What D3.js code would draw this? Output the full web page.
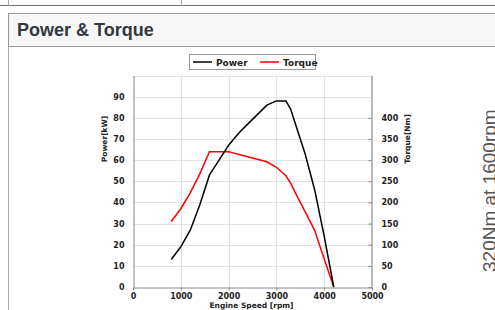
<!DOCTYPE html>
<html>
<head>
<meta charset="utf-8">
<script src="https://cdn.jsdelivr.net/npm/d3@7"></script>
<style>
  body { margin: 0; background: #fff; }
  svg { display: block; }
</style>
</head>
<body>
<div id="wrapper"></div>
<script>
const rpm = [800, 1000, 1200, 1400, 1600, 1800, 2000, 2200, 2400, 2600, 2800, 3000, 3200, 3300, 3400, 3600, 3800, 4000, 4200];
const power = [13, 19, 27, 39, 53, 60, 67, 72.5, 77, 81.5, 86, 88, 88, 84, 77, 63, 46, 24, 0];
const torque = [155, 185, 223, 268, 320, 320, 320, 314, 308, 302, 296, 283, 263, 245, 222, 178, 134, 66, 0];

const powerTicks = [0, 10, 20, 30, 40, 50, 60, 70, 80, 90];
const torqueTicks = [0, 50, 100, 150, 200, 250, 300, 350, 400];
const rpmTicks = [0, 1000, 2000, 3000, 4000, 5000];

const width = 495;
const height = 310;
const plot = { left: 133, right: 372, top: 75.5, bottom: 287 };
const tickFont = "DejaVu Sans, Verdana, sans-serif";

const svg = d3.select("#wrapper")
    .append("svg")
    .attr("width", width)
    .attr("height", height);

// page frame around the chart
svg.append("line").attr("x1", 0).attr("x2", width).attr("y1", 5.5).attr("y2", 5.5)
    .attr("stroke", "#777");
svg.append("line").attr("x1", 8.5).attr("x2", 8.5).attr("y1", 0).attr("y2", 5.5)
    .attr("stroke", "#aaa");
svg.append("line").attr("x1", 181.5).attr("x2", 181.5).attr("y1", 0).attr("y2", 5.5)
    .attr("stroke", "#aaa");

svg.append("rect")
    .attr("x", 8.5).attr("y", 13.5)
    .attr("width", width).attr("height", 33)
    .attr("fill", "#f7f7f7")
    .attr("stroke", "#999");
svg.append("line").attr("x1", 8.5).attr("x2", 8.5).attr("y1", 46).attr("y2", height)
    .attr("stroke", "#aaa");

svg.append("text")
    .attr("x", 17).attr("y", 36)
    .attr("font-family", "Liberation Sans, Arial, sans-serif")
    .attr("font-weight", "bold")
    .attr("font-size", 18)
    .attr("fill", "#333840")
    .text("Power & Torque");

// right side caption (clipped by window edge, as in the source page)
svg.append("text")
    .attr("transform", "translate(496,272) rotate(-90)")
    .attr("font-family", "Liberation Sans, Arial, sans-serif")
    .attr("font-size", 19)
    .attr("fill", "#555")
    .text("320Nm at 1600rpm");

const xScale = d3.scaleLinear()
    .domain([0, 5000])
    .range([plot.left, plot.right]);

const yScale = d3.scaleLinear()
    .domain([0, 100])
    .range([plot.bottom, plot.top]);

const y2Scale = d3.scaleLinear()
    .domain([0, 500])
    .range([plot.bottom, plot.top]);

// grid
const grid = svg.append("g");
grid.selectAll(".hgrid")
    .data(d3.range(10, 101, 10))
    .join("line")
    .attr("x1", plot.left).attr("x2", plot.right)
    .attr("y1", d => Math.round(yScale(d)) + 0.5)
    .attr("y2", d => Math.round(yScale(d)) + 0.5)
    .attr("stroke", "#e3e3e3");
grid.selectAll(".vgrid")
    .data(rpmTicks.slice(1, -1))
    .join("line")
    .attr("x1", d => Math.round(xScale(d)) + 0.5)
    .attr("x2", d => Math.round(xScale(d)) + 0.5)
    .attr("y1", plot.top).attr("y2", plot.bottom)
    .attr("stroke", "#e3e3e3");

// axes
function styleAxis(g) {
    g.select(".domain").attr("stroke", "#888");
    g.selectAll(".tick line").attr("stroke", "#888");
    g.selectAll(".tick text")
        .attr("font-family", tickFont)
        .attr("font-weight", "bold")
        .attr("font-size", 8)
        .attr("fill", "#222");
}

svg.append("g")
    .attr("transform", `translate(${plot.left + 0.5},0)`)
    .call(d3.axisLeft(yScale).tickValues(powerTicks).tickFormat(d3.format("d")).tickSize(0).tickPadding(9))
    .call(styleAxis);

svg.append("g")
    .attr("transform", `translate(${plot.right - 0.5},0)`)
    .call(d3.axisRight(y2Scale).tickValues(torqueTicks).tickFormat(d3.format("d"))
        .tickSizeInner(-3).tickSizeOuter(0).tickPadding(10))
    .call(styleAxis)
    .call(g => g.select(".domain").attr("stroke", "#777"));

svg.append("g")
    .attr("transform", `translate(0,${plot.bottom + 0.5})`)
    .call(d3.axisBottom(xScale).tickValues(rpmTicks).tickFormat(d3.format("d"))
        .tickSizeInner(3).tickSizeOuter(0).tickPadding(3))
    .call(styleAxis);

// axis titles
svg.append("text")
    .attr("transform", "translate(107,139) rotate(-90)")
    .attr("text-anchor", "middle")
    .attr("font-family", tickFont).attr("font-weight", "bold").attr("font-size", 7.5)
    .attr("fill", "#222")
    .text("Power[kW]");
svg.append("text")
    .attr("transform", "translate(410,139) rotate(-90)")
    .attr("text-anchor", "middle")
    .attr("font-family", tickFont).attr("font-weight", "bold").attr("font-size", 7.5)
    .attr("fill", "#222")
    .text("Torque[Nm]");
svg.append("text")
    .attr("x", (plot.left + plot.right) / 2 - 1).attr("y", 308)
    .attr("text-anchor", "middle")
    .attr("font-family", tickFont).attr("font-weight", "bold").attr("font-size", 7.5)
    .attr("fill", "#222")
    .text("Engine Speed [rpm]");

// lines
const powerLine = d3.line()
    .x((d, i) => xScale(rpm[i]))
    .y(d => yScale(d));
const torqueLine = d3.line()
    .x((d, i) => xScale(rpm[i]))
    .y(d => y2Scale(d));

svg.append("path")
    .attr("d", torqueLine(torque))
    .attr("fill", "none")
    .attr("stroke", "#ff0000")
    .attr("stroke-width", 1.5);
svg.append("path")
    .attr("d", powerLine(power))
    .attr("fill", "none")
    .attr("stroke", "#000")
    .attr("stroke-width", 1.5);

// legend
const legend = svg.append("g");
legend.append("rect")
    .attr("x", 189.5).attr("y", 54.5)
    .attr("width", 126).attr("height", 15)
    .attr("fill", "#fff")
    .attr("stroke", "#999");
const legendItems = [
    { name: "Power", color: "#000", x: 193 },
    { name: "Torque", color: "#ff0000", x: 260 },
];
legendItems.forEach(item => {
    legend.append("line")
        .attr("x1", item.x).attr("x2", item.x + 19)
        .attr("y1", 62).attr("y2", 62)
        .attr("stroke", item.color).attr("stroke-width", 1.5);
    legend.append("text")
        .attr("x", item.x + 23).attr("y", 65.5)
        .attr("font-family", tickFont).attr("font-weight", "bold").attr("font-size", 9)
        .attr("fill", "#222")
        .text(item.name);
});
</script>
</body>
</html>
